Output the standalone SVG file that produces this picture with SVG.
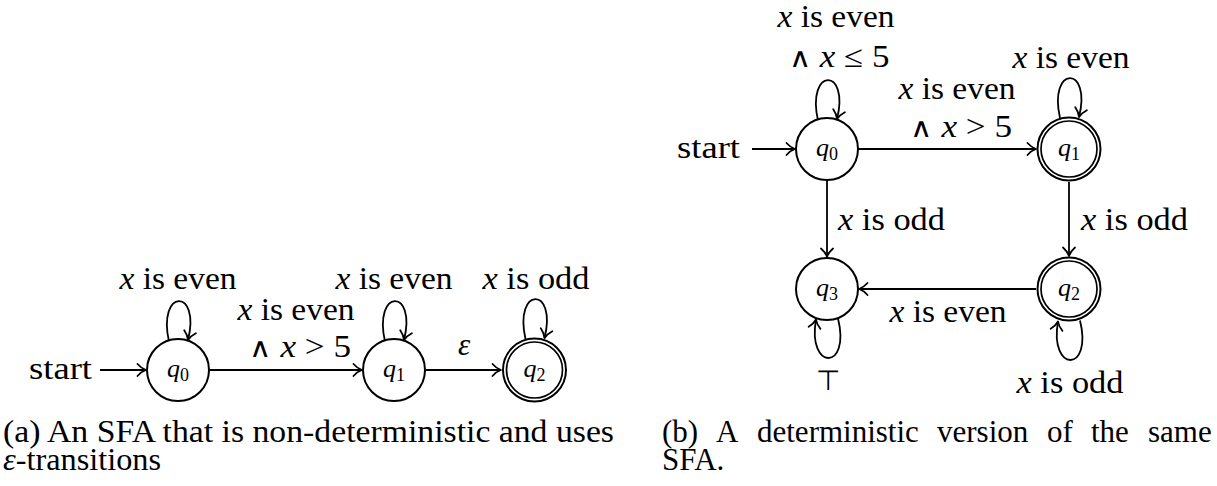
<svg xmlns="http://www.w3.org/2000/svg" width="1217" height="486" viewBox="0 0 1217 486" font-family="'Liberation Serif','DejaVu Serif',serif">
<style>
text{font-family:"Liberation Serif","DejaVu Serif",serif;fill:#000}
.t{font-size:31px}
.i{font-style:italic}
.n{font-size:26px;text-anchor:middle}
.sub{font-size:18px}
.m{text-anchor:middle}
.w{font-family:"DejaVu Sans",sans-serif;font-weight:200;font-size:27px}
.e{stroke:#000;stroke-width:1.8;fill:none}
.st{fill:#fff;stroke:#000;stroke-width:2}
.dbl{fill:none;stroke:#000;stroke-width:1.7}
.top{font-family:"DejaVu Sans",sans-serif;font-size:28px;font-weight:200}
</style>
<defs>
<marker id="arr" viewBox="-11 -8 13 16" markerWidth="13" markerHeight="16" refX="0" refY="0" orient="auto" markerUnits="userSpaceOnUse">
<path d="M-8.5,-6 C-5.5,-2.6 -2.2,-0.7 0,0 C-2.2,0.7 -5.5,2.6 -8.5,6" fill="none" stroke="#000" stroke-width="1.8" stroke-linecap="round" stroke-linejoin="round"/>
</marker>
</defs>
<rect width="1217" height="486" fill="#fff"/>

<g id="connectors">
<line class="e" x1="100" y1="370" x2="146" y2="370" marker-end="url(#arr)"/>
<line class="e" x1="209" y1="370" x2="362" y2="370" marker-end="url(#arr)"/>
<line class="e" x1="426" y1="370" x2="501" y2="370" marker-end="url(#arr)"/>
<path class="e" d="M169,341.5 C157,288 201,288 188,340" marker-end="url(#arr)"/>
<path class="e" d="M385,341.5 C373,288 417,288 404,340" marker-end="url(#arr)"/>
<path class="e" d="M525.5,339 C513.5,286 557.5,286 544.5,338" marker-end="url(#arr)"/>
<line class="e" x1="752" y1="149" x2="795" y2="149" marker-end="url(#arr)"/>
<line class="e" x1="858" y1="149" x2="1036" y2="149" marker-end="url(#arr)"/>
<line class="e" x1="827" y1="180" x2="827" y2="257" marker-end="url(#arr)"/>
<line class="e" x1="1069" y1="182" x2="1069" y2="256" marker-end="url(#arr)"/>
<line class="e" x1="1036" y1="289" x2="859" y2="289" marker-end="url(#arr)"/>
<path class="e" d="M818,120.5 C806,67 850,67 837,119" marker-end="url(#arr)"/>
<path class="e" d="M1060,118 C1048,65 1092,65 1079,117" marker-end="url(#arr)"/>
<path class="e" d="M838,318.5 C851,371 807,371 816,319.5" marker-end="url(#arr)"/>
<path class="e" d="M1080,320.5 C1093,373 1049,373 1058,321.5" marker-end="url(#arr)"/>
</g>

<g id="a_q0"><circle class="st" cx="178" cy="370" r="31"/><text class="n" x="178" y="377"><tspan class="i">q</tspan><tspan class="sub" dy="4">0</tspan></text></g>
<g id="a_q1"><circle class="st" cx="394" cy="370" r="31"/><text class="n" x="394" y="377"><tspan class="i">q</tspan><tspan class="sub" dy="4">1</tspan></text></g>
<g id="a_q2"><circle class="st" cx="534.5" cy="370" r="31.5" stroke-width="1.7"/><circle class="dbl" cx="534.5" cy="370" r="28"/><text class="n" x="534.5" y="377"><tspan class="i">q</tspan><tspan class="sub" dy="4">2</tspan></text></g>

<g id="b_q0"><circle class="st" cx="827" cy="149" r="31"/><text class="n" x="827" y="156"><tspan class="i">q</tspan><tspan class="sub" dy="4">0</tspan></text></g>
<g id="b_q1"><circle class="st" cx="1069" cy="149" r="31.5" stroke-width="1.7"/><circle class="dbl" cx="1069" cy="149" r="28"/><text class="n" x="1069" y="156"><tspan class="i">q</tspan><tspan class="sub" dy="4">1</tspan></text></g>
<g id="b_q3"><circle class="st" cx="827" cy="289" r="31"/><text class="n" x="827" y="296"><tspan class="i">q</tspan><tspan class="sub" dy="4">3</tspan></text></g>
<g id="b_q2"><circle class="st" cx="1069" cy="289" r="31.5" stroke-width="1.7"/><circle class="dbl" cx="1069" cy="289" r="28"/><text class="n" x="1069" y="296"><tspan class="i">q</tspan><tspan class="sub" dy="4">2</tspan></text></g>

<g id="labels">
<text class="t" x="92" y="379" text-anchor="end" textLength="63" lengthAdjust="spacingAndGlyphs">start</text>
<text class="t m" x="178" y="289" textLength="117" lengthAdjust="spacingAndGlyphs"><tspan class="i">x</tspan> is even</text>
<text class="t m" x="394" y="289" textLength="117" lengthAdjust="spacingAndGlyphs"><tspan class="i">x</tspan> is even</text>
<text class="t m" x="536" y="289" textLength="107" lengthAdjust="spacingAndGlyphs"><tspan class="i">x</tspan> is odd</text>
<text class="t m" x="296" y="320" textLength="117" lengthAdjust="spacingAndGlyphs"><tspan class="i">x</tspan> is even</text>
<text class="t m" x="300" y="357" textLength="102" lengthAdjust="spacingAndGlyphs"><tspan class="w">∧</tspan> <tspan class="i">x</tspan> &gt; 5</text>
<text class="t m i" x="464" y="355">ε</text>
<text class="t" x="740" y="158" text-anchor="end" textLength="63" lengthAdjust="spacingAndGlyphs">start</text>
<text class="t m" x="836" y="27" textLength="117" lengthAdjust="spacingAndGlyphs"><tspan class="i">x</tspan> is even</text>
<text class="t m" x="839" y="67" textLength="101" lengthAdjust="spacingAndGlyphs"><tspan class="w">∧</tspan> <tspan class="i">x</tspan> ≤ 5</text>
<text class="t m" x="1071" y="68" textLength="117" lengthAdjust="spacingAndGlyphs"><tspan class="i">x</tspan> is even</text>
<text class="t m" x="957" y="99" textLength="117" lengthAdjust="spacingAndGlyphs"><tspan class="i">x</tspan> is even</text>
<text class="t m" x="961" y="137" textLength="102" lengthAdjust="spacingAndGlyphs"><tspan class="w">∧</tspan> <tspan class="i">x</tspan> &gt; 5</text>
<text class="t" x="838" y="230" textLength="107" lengthAdjust="spacingAndGlyphs"><tspan class="i">x</tspan> is odd</text>
<text class="t" x="1081" y="230" textLength="107" lengthAdjust="spacingAndGlyphs"><tspan class="i">x</tspan> is odd</text>
<text class="t m" x="948" y="322" textLength="117" lengthAdjust="spacingAndGlyphs"><tspan class="i">x</tspan> is even</text>
<text class="top m" x="828" y="390">⊤</text>
<text class="t m" x="1070" y="393" textLength="107" lengthAdjust="spacingAndGlyphs"><tspan class="i">x</tspan> is odd</text>
</g>

<g id="captions">
<text class="t" x="3" y="442" textLength="611" lengthAdjust="spacingAndGlyphs">(a) An SFA that is non-deterministic and uses</text>
<text class="t" x="3" y="470" textLength="158" lengthAdjust="spacingAndGlyphs"><tspan class="i">ε</tspan>-transitions</text>
<text class="t" y="442"><tspan x="662">(b)</tspan><tspan x="716">A</tspan><tspan x="757">deterministic</tspan><tspan x="937">version</tspan><tspan x="1047">of</tspan><tspan x="1091">the</tspan><tspan x="1148">same</tspan></text>
<text class="t" x="662" y="470">SFA.</text>
</g>
</svg>
